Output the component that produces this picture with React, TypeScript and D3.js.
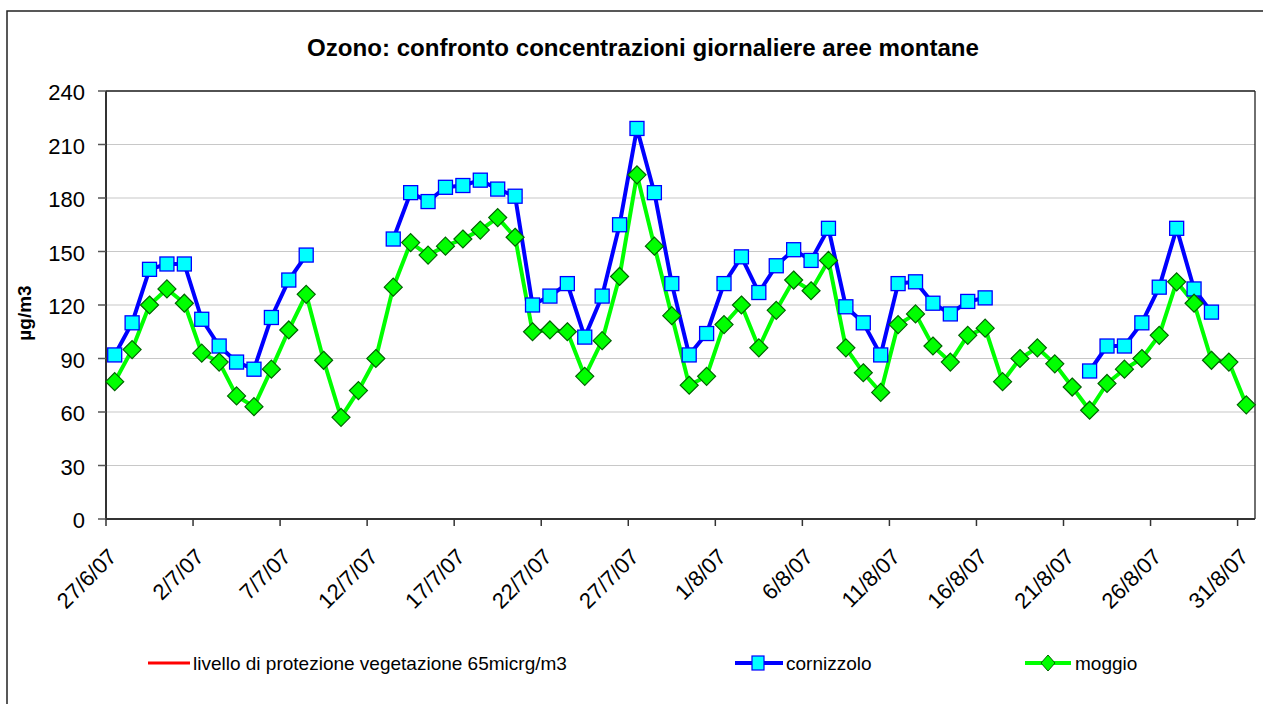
import React from "react";
import * as d3 from "d3";

const startDate = new Date(2007, 5, 27);
const endDate = new Date(2007, 8, 1);
const days: Date[] = d3.timeDays(startDate, endDate);

const tickLabels = ["27/6/07", "2/7/07", "7/7/07", "12/7/07", "17/7/07", "22/7/07", "27/7/07", "1/8/07", "6/8/07", "11/8/07", "16/8/07", "21/8/07", "26/8/07", "31/8/07"];

const cornizzolo: (number | null)[] = [
  92, 110, 140, 143, 143, 112, 97, 88, 84, 113, 134, 148,
  null, null, null, null,
  157, 183, 178, 186, 187, 190, 185, 181,
  120, 125, 132, 102, 125, 165, 219, 183, 132,
  92, 104, 132, 147, 127, 142, 151, 145, 163, 119, 110, 92, 132, 133, 121, 115, 122, 124,
  null, null, null, null, null,
  83, 97, 97, 110, 130, 163, 129, 116,
  null, null,
];

const moggio: (number | null)[] = [
  77, 95, 120, 129, 121, 93, 88, 69, 63, 84, 106, 126, 89, 57, 72, 90, 130,
  155, 148, 153, 157, 162, 169, 158, 105, 106, 105, 80, 100, 136, 193, 153, 114,
  75, 80, 109, 120, 96, 117, 134, 128, 145, 96, 82, 71, 109, 115, 97, 88, 103,
  107, 77, 90, 96, 87, 74, 61, 76, 84, 90, 103, 133, 121, 89, 88, 64,
];

const yTicks = [0, 30, 60, 90, 120, 150, 180, 210, 240];
const legendLabels = ["livello di protezione vegetazione 65micrg/m3", "cornizzolo", "moggio"];
const title = "Ozono: confronto concentrazioni giornaliere aree montane";
const yLabel = "µg/m3";

const FONT = "'Liberation Sans', Arial, sans-serif";

export default function App() {
  const W = 1263, H = 704;
  const left = 106, right = 1255, top = 91, bottom = 519;
  const x = d3.scaleBand<number>().domain(days.map((_, i) => i)).range([left, right]).paddingInner(0).paddingOuter(0);
  const y = d3.scaleLinear().domain([0, 240]).range([bottom, top]);
  const cx = (i: number) => (x(i) as number) + x.bandwidth() / 2;

  const line = d3.line<number | null>()
    .defined((d) => d !== null)
    .x((_, i) => cx(i))
    .y((d) => y(d as number));

  const tickIdx = tickLabels.map((_, k) => k * 5);

  return (
    <svg width={W} height={H} style={{ position: "absolute", left: 0, top: 0, display: "block" }} fontFamily={FONT}>
      <rect x={0} y={0} width={W} height={H} fill="#fff" />
      <rect x={7} y={11} width={W + 20} height={H + 20} fill="#fff" stroke="#222" strokeWidth={1.5} />
      <text x={643} y={56} textAnchor="middle" fontSize={24} fontWeight="bold" fill="#000" textLength={672} lengthAdjust="spacingAndGlyphs">{title}</text>

      {/* gridlines */}
      {yTicks.filter((t) => t > 0).map((t) => (
        <line key={"g" + t} x1={left} x2={right} y1={y(t)} y2={y(t)} stroke="#c8c8c8" strokeWidth={1.2} />
      ))}
      {/* plot border */}
      <line x1={left} x2={right} y1={top} y2={top} stroke="#222" strokeWidth={1.3} />
      <line x1={right} x2={right} y1={top} y2={bottom} stroke="#222" strokeWidth={1.3} />
      {/* axes */}
      <line x1={left} x2={left} y1={top} y2={bottom} stroke="#333" strokeWidth={2} />
      <line x1={left} x2={right} y1={bottom} y2={bottom} stroke="#333" strokeWidth={2} />
      {yTicks.map((t) => (
        <g key={"y" + t}>
          <line x1={left - 8} x2={left} y1={y(t)} y2={y(t)} stroke="#555" strokeWidth={1.5} />
          <text x={left - 21} y={y(t) + 9} textAnchor="end" fontSize={22} fill="#000">{t}</text>
        </g>
      ))}
      <text transform={`translate(31,313) rotate(-90)`} textAnchor="middle" fontSize={19} fontWeight="bold" fill="#000">{yLabel}</text>

      {tickIdx.map((i, k) => {
        const tx = x(i) as number;
        return (
          <g key={"x" + i}>
            <line x1={tx} x2={tx} y1={bottom} y2={bottom + 7} stroke="#333" strokeWidth={1.5} />
            <text transform={`translate(${tx + 12},558) rotate(-45)`} textAnchor="end" fontSize={22} fill="#000">{tickLabels[k]}</text>
          </g>
        );
      })}

      {/* cornizzolo */}
      <path d={line(cornizzolo) || ""} fill="none" stroke="#0000ff" strokeWidth={4} strokeLinejoin="round" />
      {/* moggio */}
      <path d={line(moggio) || ""} fill="none" stroke="#00ff00" strokeWidth={4} strokeLinejoin="round" />
      {cornizzolo.map((v, i) => v === null ? null : (
        <rect key={"c" + i} x={cx(i) - 7} y={y(v) - 7} width={14} height={14} fill="#00ffff" stroke="#0000ff" strokeWidth={1.3} />
      ))}
      {moggio.map((v, i) => v === null ? null : (
        <path key={"m" + i} d={`M${cx(i)},${y(v) - 9}L${cx(i) + 9},${y(v)}L${cx(i)},${y(v) + 9}L${cx(i) - 9},${y(v)}Z`} fill="#00ff00" stroke="#006400" strokeWidth={1.2} />
      ))}

      {/* legend */}
      <g fontSize={19} fill="#000">
        <line x1={148} x2={190} y1={663} y2={663} stroke="#ff0000" strokeWidth={3} />
        <text x={193} y={670}>{legendLabels[0]}</text>
        <line x1={735} x2={783} y1={663} y2={663} stroke="#0000ff" strokeWidth={4} />
        <rect x={752} y={656} width={12} height={14} fill="#00ffff" stroke="#0000ff" strokeWidth={1.2} />
        <text x={786} y={670}>{legendLabels[1]}</text>
        <line x1={1025} x2={1071} y1={663} y2={663} stroke="#00ff00" strokeWidth={4} />
        <path d="M1048,655L1055,663L1048,671L1041,663Z" fill="#00ff00" stroke="#006400" strokeWidth={1} />
        <text x={1075} y={670}>{legendLabels[2]}</text>
      </g>
    </svg>
  );
}
